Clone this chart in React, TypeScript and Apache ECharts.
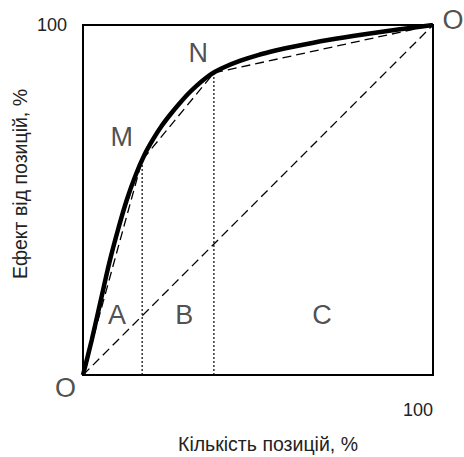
import React, { useEffect, useRef } from "react";
import * as echarts from "echarts";

// Lorenz-type curve (x: % of positions, y: % of effect)
const curveX = [0, 2.5, 5, 7.5, 10, 12.5, 15, 17.5, 20, 22.5, 25, 27.5, 30, 32.5, 35, 37.5, 40, 45, 50, 55, 60, 70, 80, 90, 100];
const curveY = [0, 10, 21, 32, 41.5, 50, 57, 62.8, 67.3, 71.2, 74.5, 77.5, 80.3, 82.7, 84.8, 86.5, 87.8, 89.8, 91.4, 92.7, 93.8, 95.7, 97.3, 98.7, 100];

// Broken chord O -> M -> N -> O'
const chordX = [0, 16.9, 37.4, 100];
const chordY = [0, 61.4, 86.3, 100];

// Diagonal O -> O'
const diagX = [0, 100];
const diagY = [0, 100];

// Boundaries of zones A/B/C
const boundX = [16.9, 37.4];
const boundTop = [61.4, 86.3];

// Letter annotations
const labelNames = ["A", "B", "C", "M", "N", "O", "O"];
const labelX = [9.7, 28.9, 68.3, 11.1, 32.9, 105.7, -5];
const labelY = [17.1, 17.1, 17.1, 68, 92, 101.4, -3.7];

const xTitle = "Кількість позицій, %";
const yTitle = "Ефект від позицій, %";
const FONT = "Liberation Sans, Arial, sans-serif";
const TXT = "#222";

export default function App() {
  const ref = useRef<HTMLDivElement>(null);
  useEffect(() => {
    document.body.style.margin = "0";
    const chart = echarts.init(ref.current!, null, { renderer: "svg" });
    const zip = (xs: number[], ys: number[]) => xs.map((x, i) => [x, ys[i]]);
    const boundSeries = boundX.map((x, i) => ({
      type: "line",
      data: [[x, 0], [x, boundTop[i]]],
      symbol: "none",
      lineStyle: { color: "#000", width: 1.2, type: [2, 2] },
      z: 2,
    }));
    chart.setOption({
      animation: false,
      backgroundColor: "#fff",
      grid: {
        left: 83,
        top: 25,
        width: 350,
        height: 350,
        show: true,
        borderColor: "#000",
        borderWidth: 2,
        backgroundColor: "transparent",
      },
      xAxis: {
        type: "value",
        min: 0,
        max: 100,
        interval: 100,
        axisLine: { show: false },
        axisTick: { show: false },
        splitLine: { show: false },
        axisLabel: {
          formatter: (v: number) => (v === 100 ? "100" : ""),
          align: "right",
          margin: 26,
          fontSize: 18,
          fontFamily: FONT,
          color: TXT,
        },
      },
      yAxis: {
        type: "value",
        min: 0,
        max: 100,
        interval: 100,
        axisLine: { show: false },
        axisTick: { show: false },
        splitLine: { show: false },
        axisLabel: {
          formatter: (v: number) => (v === 100 ? "100" : ""),
          margin: 16,
          fontSize: 18,
          fontFamily: FONT,
          color: TXT,
        },
      },
      graphic: [
        {
          type: "text",
          x: 268,
          y: 444,
          style: {
            text: xTitle,
            align: "center",
            verticalAlign: "middle",
            fontSize: 19.5,
            fontFamily: FONT,
            fill: TXT,
          },
        },
        {
          type: "text",
          x: 20,
          y: 184,
          rotation: Math.PI / 2,
          style: {
            text: yTitle,
            align: "center",
            verticalAlign: "middle",
            fontSize: 19.5,
            fontFamily: FONT,
            fill: TXT,
          },
        },
      ],
      series: [
        {
          type: "line",
          data: zip(diagX, diagY),
          symbol: "none",
          lineStyle: { color: "#000", width: 1.3, type: [9, 5] },
          z: 2,
        },
        {
          type: "line",
          data: zip(chordX, chordY),
          symbol: "none",
          lineStyle: { color: "#000", width: 1.3, type: [9, 5] },
          z: 2,
        },
        ...boundSeries,
        {
          type: "line",
          data: zip(curveX, curveY),
          symbol: "none",
          smooth: 0.25,
          lineStyle: { color: "#000", width: 4.5 },
          z: 3,
        },
        {
          type: "scatter",
          clip: false,
          symbolSize: 1,
          itemStyle: { color: "transparent" },
          data: labelNames.map((n, i) => ({ name: n, value: [labelX[i], labelY[i]] })),
          label: {
            show: true,
            position: "inside",
            formatter: (p: any) => p.name,
            fontSize: 27,
            fontFamily: FONT,
            color: TXT,
          },
          silent: true,
          z: 4,
        },
      ],
    });
    return () => chart.dispose();
  }, []);
  return <div ref={ref} style={{ width: 464, height: 457 }} />;
}
